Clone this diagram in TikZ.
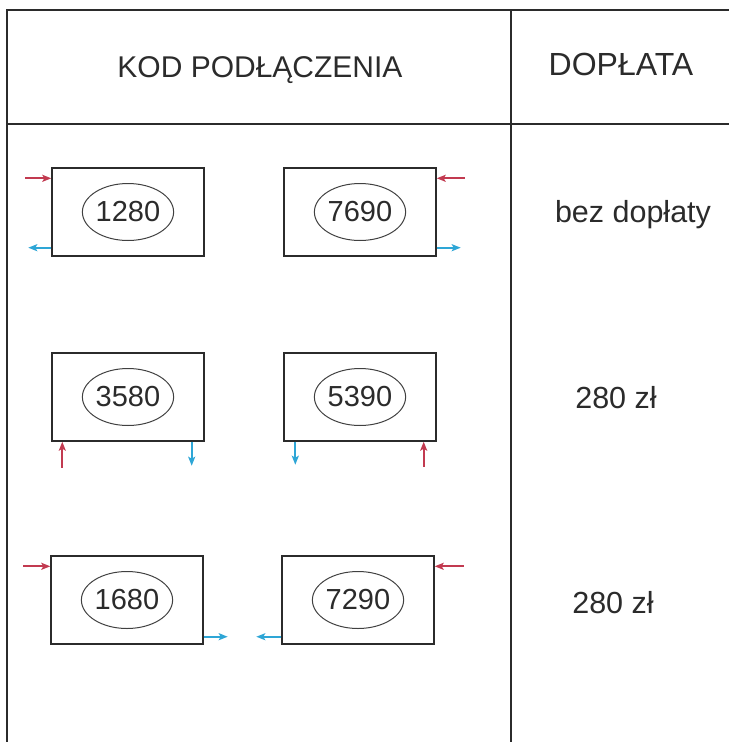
\documentclass[tikz,border=0pt]{standalone}
\usepackage{fontspec}
\setmainfont{Liberation Sans}
\usepackage{tikz}
\usetikzlibrary{calc, positioning, arrows.meta, shapes.geometric}

\definecolor{ciepla}{HTML}{C23A50}
\definecolor{zimna}{HTML}{2EA6D6}
\definecolor{ramka}{HTML}{2B2B2B}

\begin{document}
\begin{tikzpicture}[x=1pt, y=-1pt,
    every node/.style={inner sep=0pt, text=ramka},
    linia/.style={draw=ramka, line width=2pt},
    naglowek/.style={anchor=base, font=\fontsize{30}{36}\selectfont},
    doplata/.style={anchor=base, font=\fontsize{30.5}{36}\selectfont},
    grzejnik/.style={draw=ramka, line width=1.4pt, minimum width=152pt, minimum height=88pt},
    kod/.style={ellipse, draw=black!75, line width=1pt, minimum width=89pt, minimum height=57pt, font=\fontsize{29}{32}\selectfont},
    zasilanie/.style={draw=ciepla, line width=1.8pt, -{Stealth[length=9pt, width=7pt, inset=2pt]}},
    powrot/.style={draw=zimna, line width=1.8pt, -{Stealth[length=9pt, width=7pt, inset=2pt]}}]
    \useasboundingbox (0,0) rectangle (729,742);

    % siatka tabeli (bez prawej i dolnej krawedzi)
    \draw[linia] (7,742) -- (7,10) -- (729,10);
    \draw[linia] (7,124) -- (729,124);
    \draw[linia] (511,10) -- (511,742);

    % naglowki kolumn
    \node[naglowek] (hkod) at (260,77) {KOD PODŁĄCZENIA};
    \node[naglowek, font=\fontsize{32}{36}\selectfont] (hdop) at (621,75) {DOPŁATA};

    % wiersz 1: podlaczenie boczne
    \node[grzejnik] (g1280) at (128,212) {};
    \node[kod] (k1280) at (g1280.center) {1280};
    \node[grzejnik] (g7690) at (360,212) {};
    \node[kod] (k7690) at (g7690.center) {7690};
    \coordinate (z1280) at ($(g1280.north west)+(-26,11)$);
    \coordinate (p1280) at ($(g1280.south west)+(-23,-9)$);
    \coordinate (z7690) at ($(g7690.north east)+(28,11)$);
    \coordinate (p7690) at ($(g7690.south east)+(24,-9)$);
    \draw[zasilanie] (z1280) -- (z1280 -| g1280.west);
    \draw[powrot] (p1280 -| g1280.west) -- (p1280);
    \draw[zasilanie] (z7690) -- (z7690 -| g7690.east);
    \draw[powrot] (p7690 -| g7690.east) -- (p7690);
    \node[doplata] (d1) at (633,222) {bez dopłaty};

    % wiersz 2: podlaczenie dolne
    \node[grzejnik] (g3580) at (128,397) {};
    \node[kod] (k3580) at (g3580.center) {3580};
    \node[grzejnik] (g5390) at (360,397) {};
    \node[kod] (k5390) at (g5390.center) {5390};
    \coordinate (z3580) at ($(g3580.south west)+(11,26)$);
    \coordinate (p3580) at ($(g3580.south east)+(-13,24)$);
    \coordinate (p5390) at ($(g5390.south west)+(12,23)$);
    \coordinate (z5390) at ($(g5390.south east)+(-13,25)$);
    \draw[zasilanie] (z3580) -- (z3580 |- g3580.south);
    \draw[powrot] (p3580 |- g3580.south) -- (p3580);
    \draw[powrot] (p5390 |- g5390.south) -- (p5390);
    \draw[zasilanie] (z5390) -- (z5390 |- g5390.south);
    \node[doplata] (d2) at (616,408) {280 zł};

    % wiersz 3: zasilanie z boku, powrot od dolu
    \node[grzejnik] (g1680) at (127,600) {};
    \node[kod] (k1680) at (g1680.center) {1680};
    \node[grzejnik] (g7290) at (358,600) {};
    \node[kod] (k7290) at (g7290.center) {7290};
    \coordinate (z1680) at ($(g1680.north west)+(-27,11)$);
    \coordinate (p1680) at ($(g1680.south east)+(24,-8)$);
    \coordinate (z7290) at ($(g7290.north east)+(29,11)$);
    \coordinate (p7290) at ($(g7290.south west)+(-25,-8)$);
    \draw[zasilanie] (z1680) -- (z1680 -| g1680.west);
    \draw[powrot] (p1680 -| g1680.east) -- (p1680);
    \draw[zasilanie] (z7290) -- (z7290 -| g7290.east);
    \draw[powrot] (p7290 -| g7290.west) -- (p7290);
    \node[doplata] (d3) at (613,613) {280 zł};
\end{tikzpicture}
\end{document}
